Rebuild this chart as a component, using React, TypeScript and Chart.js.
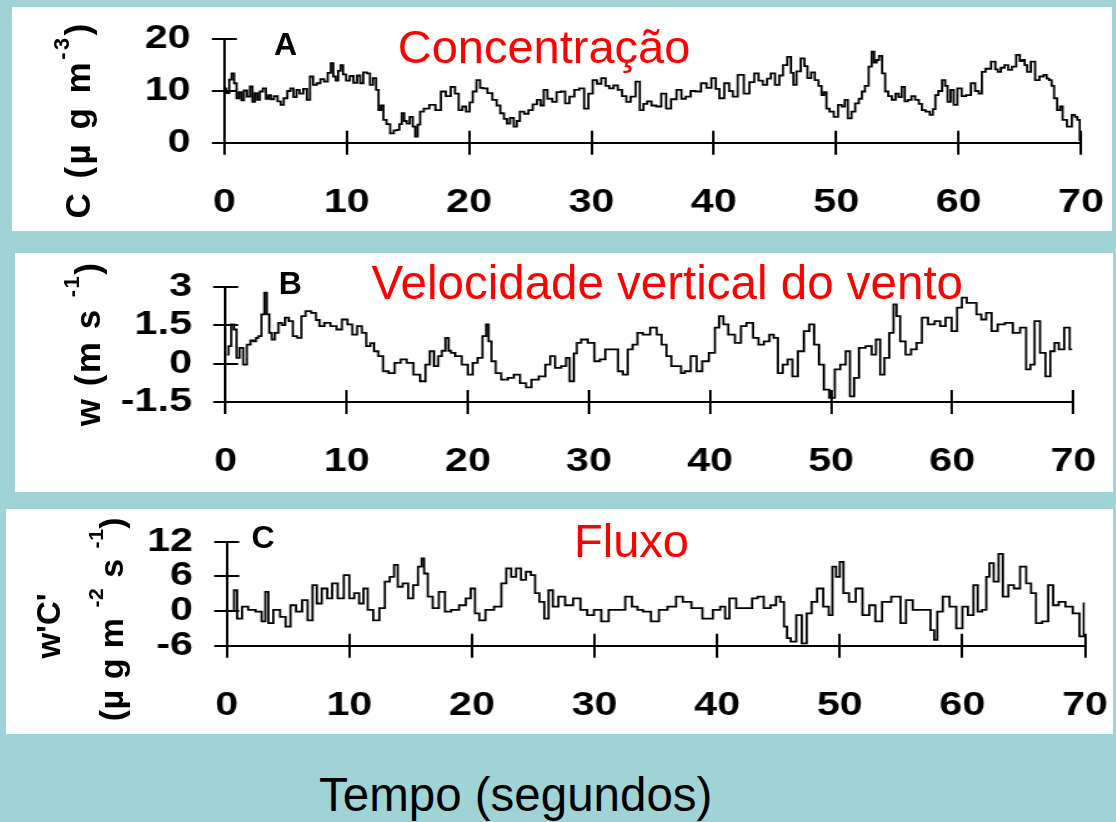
import React, { useEffect, useRef } from 'react';
import { Chart, registerables } from 'chart.js';

Chart.register(...registerables);

// ---------- data ----------
const X_TICKS = [0, 10, 20, 30, 40, 50, 60, 70];
const A_Y_TICKS = [0, 10, 20];
const B_Y_TICKS = [-1.5, 0, 1.5, 3];
const C_Y_TICKS = [-6, 0, 6, 12];

// Panel A: concentration (µg m-3)
const A_TIME = [
  0, 0.3, 0.5, 0.7, 0.9, 1.1, 1.3, 1.5, 1.7, 2.0, 2.2, 2.4, 2.6, 2.8, 3.0, 3.3, 3.5, 3.7, 3.9, 4.2,
  4.5, 4.7, 5.0, 5.3, 5.5, 5.8, 6.0, 6.3, 6.6, 6.9, 7.1, 7.4, 7.7, 8.0, 8.3, 8.6, 8.8, 9.0, 9.2, 9.4,
  9.6, 9.8, 10.1, 10.4, 10.7, 11.0, 11.2, 11.5, 11.8, 12.0, 12.3, 12.5, 12.7, 12.9, 13.1, 13.4, 13.7, 14.0, 14.2, 14.4,
  14.6, 14.8, 15.0, 15.3, 15.5, 15.7, 15.9, 16.1, 16.5, 17.0, 17.5, 17.9, 18.3, 18.7, 19.0, 19.3, 19.6, 19.9, 20.2, 20.4,
  20.8, 21.0, 21.3, 21.7, 22.1, 22.4, 22.7, 23.0, 23.2, 23.5, 23.8, 24.0, 24.3, 24.7, 25.0, 25.4, 25.7, 26.0, 26.2, 26.6,
  27.0, 27.3, 27.7, 28.0, 28.4, 28.8, 29.2, 29.6, 29.9, 30.3, 30.6, 31.0, 31.3, 31.6, 32.0, 32.3, 32.7, 33.0, 33.4, 33.8,
  34.1, 34.4, 34.7, 35.1, 35.5, 35.9, 36.3, 36.7, 37.2, 37.5, 37.9, 38.3, 38.7, 39.2, 39.6, 40.0, 40.3, 40.6, 41.1, 41.4,
  41.7, 42.2, 42.7, 43.1, 43.5, 43.8, 44.2, 44.5, 44.8, 45.2, 45.5, 45.8, 46.2, 46.4, 46.6, 46.9, 47.3, 47.5, 47.8, 48.1,
  48.4, 48.7, 48.9, 49.1, 49.3, 49.6, 50.0, 50.3, 50.6, 50.8, 51.1, 51.4, 51.7, 52.0, 52.2, 52.5, 52.8, 53.0, 53.2, 53.4,
  53.6, 53.9, 54.1, 54.4, 54.7, 55.0, 55.2, 55.5, 55.7, 56.0, 56.3, 56.6, 56.9, 57.1, 57.5, 57.8, 58.0, 58.2, 58.5, 58.8,
  59.0, 59.2, 59.5, 59.7, 60.1, 60.4, 60.8, 61.2, 61.5, 61.8, 62.0, 62.4, 62.9, 63.1, 63.3, 63.6, 63.9, 64.2, 64.5, 64.9,
  65.1, 65.3, 65.5, 65.7, 66.1, 66.4, 66.8, 67.1, 67.3, 67.5, 67.7, 67.9, 68.2, 68.4, 68.6, 69.1, 69.4, 69.6, 69.8, 70.0,
];
const A_CONC = [
  10.5, 9.6, 12.2, 13.4, 11.5, 8.6, 9.8, 8.2, 10.1, 8.9, 10.9, 7.9, 9.6, 8.3, 9.9, 10.5, 8.5, 9.2, 8.4, 9.0,
  8.0, 7.3, 8.6, 10.0, 10.5, 8.8, 10.2, 9.5, 10.4, 8.3, 12.8, 11.2, 11.5, 12.3, 11.8, 13.5, 15.4, 12.8, 12.0, 13.9,
  15.0, 13.2, 12.0, 12.9, 11.6, 13.0, 11.5, 13.6, 13.4, 11.2, 12.5, 10.2, 6.3, 7.2, 4.4, 3.6, 1.8, 2.4, 2.5, 3.6,
  5.7, 4.2, 3.7, 5.0, 3.1, 1.2, 3.5, 6.0, 6.6, 7.3, 6.3, 9.9, 9.0, 10.8, 9.5, 6.3, 7.0, 6.0, 7.8, 9.9,
  12.1, 10.6, 10.5, 9.6, 8.3, 7.2, 5.7, 4.6, 3.7, 4.8, 3.1, 4.2, 6.0, 5.6, 6.3, 7.4, 8.3, 7.2, 10.2, 8.5,
  7.9, 9.8, 9.9, 7.6, 8.9, 10.2, 10.5, 6.6, 9.5, 12.1, 11.4, 12.5, 11.0, 10.5, 11.1, 10.2, 9.0, 7.9, 8.9, 11.8,
  6.3, 7.5, 8.0, 7.2, 7.0, 9.5, 6.6, 8.4, 10.2, 8.5, 8.9, 10.0, 9.9, 11.5, 10.6, 12.5, 10.4, 8.6, 11.5, 10.0,
  8.9, 13.1, 9.5, 11.7, 13.4, 12.0, 11.2, 12.4, 13.4, 11.2, 13.0, 15.0, 16.6, 13.5, 11.2, 13.8, 16.3, 14.8, 12.5, 13.6,
  12.1, 11.0, 9.2, 9.8, 6.6, 6.0, 5.0, 7.3, 7.0, 8.3, 4.7, 6.0, 7.6, 8.5, 9.9, 11.0, 14.7, 17.6, 15.5, 16.0,
  16.8, 13.4, 9.9, 9.0, 8.3, 9.5, 8.8, 10.8, 8.0, 8.3, 9.0, 8.3, 7.5, 6.3, 6.0, 5.4, 6.5, 9.2, 10.0, 12.1,
  11.0, 7.9, 10.2, 7.3, 10.5, 9.0, 9.2, 11.5, 10.0, 9.5, 13.7, 14.3, 15.7, 14.2, 13.7, 14.5, 15.0, 14.1, 14.7, 17.0,
  15.8, 16.0, 15.0, 13.7, 15.7, 12.1, 12.8, 13.1, 12.4, 12.1, 11.0, 8.6, 6.3, 7.0, 4.4, 3.1, 5.4, 5.0, 4.4, 0.5,
];

// Panel B: vertical wind speed (m s-1)
const B_TIME = [
  0.1, 0.35, 0.55, 0.8, 1.0, 1.3, 1.6, 1.9, 2.2, 2.4, 2.6, 2.8, 3.1, 3.3, 3.5, 3.7, 3.9, 4.2, 4.5, 4.8,
  5.0, 5.4, 5.7, 6.1, 6.4, 6.8, 7.3, 7.6, 7.9, 8.4, 8.9, 9.4, 9.8, 10.3, 10.6, 11.1, 11.4, 11.8, 12.1, 12.4,
  12.8, 13.2, 13.7, 14.2, 14.7, 15.2, 15.8, 16.3, 16.7, 17.0, 17.4, 17.7, 18.0, 18.3, 18.5, 18.7, 19.2, 19.8, 20.2, 20.6,
  21.0, 21.4, 21.6, 21.8, 22.1, 22.5, 23.0, 23.6, 24.0, 24.6, 25.0, 25.5, 26.2, 26.6, 27.0, 27.4, 28.0, 28.2, 28.6, 28.9,
  29.1, 29.6, 30.2, 30.7, 31.1, 31.6, 32.2, 32.6, 33.0, 33.4, 33.8, 34.2, 34.7, 35.4, 35.8, 36.2, 36.6, 37.0, 37.5, 37.7,
  38.1, 38.7, 39.1, 39.6, 40.2, 40.6, 40.9, 41.3, 41.7, 42.4, 42.7, 43.3, 43.8, 44.2, 44.7, 45.1, 45.4, 45.8, 46.2, 46.6,
  47.0, 47.5, 48.0, 48.4, 48.8, 49.2, 49.6, 50.1, 50.5, 51.0, 51.4, 51.7, 52.1, 52.5, 53.2, 53.5, 53.9, 54.2, 54.6, 55.0,
  55.3, 55.5, 55.9, 56.4, 56.8, 57.3, 57.7, 58.3, 58.8, 59.2, 59.7, 60.2, 60.6, 61.0, 61.4, 61.8, 62.2, 62.6, 63.0, 63.5,
  64.0, 64.7, 65.3, 65.9, 66.3, 66.6, 67.0, 67.5, 67.9, 68.3, 68.6, 69.0, 69.5, 69.9,
];
const B_WIND = [
  0.35, 0.68, 1.53, 1.33, 0.22, 0.61, -0.04, 0.74, 0.9, 0.87, 1.0, 1.07, 1.92, 2.77, 1.92, 1.2, 0.94, 1.2, 1.59, 1.5,
  1.79, 1.66, 1.07, 1.0, 1.85, 2.05, 1.98, 1.7, 1.46, 1.59, 1.46, 1.33, 1.72, 1.53, 1.13, 1.46, 1.2, 0.68, 0.8, 0.48,
  0.29, -0.3, -0.37, 0.03, 0.16, 0.03, -0.43, -0.69, -0.04, 0.48, -0.1, 0.29, 0.5, 1.0, 0.5, 0.42, 0.29, -0.04, -0.43, 0.03,
  0.22, 1.07, 1.53, 0.87, 0.09, -0.37, -0.63, -0.56, -0.43, -0.76, -0.93, -0.63, -0.5, -0.04, 0.29, -0.17, -0.1, 0.22, -0.69, 0.4,
  0.81, 0.94, 0.81, 0.09, 0.16, 0.55, 0.55, -0.3, -0.43, 0.55, 0.74, 1.2, 1.13, 1.4, 1.13, 0.74, 0.29, -0.1, -0.1, -0.37,
  -0.3, 0.29, -0.3, 0.09, 0.42, 1.4, 1.85, 1.53, 1.13, 0.81, 1.46, 1.59, 1.0, 0.74, 0.87, 1.13, 1.0, -0.37, -0.04, 0.16,
  -0.5, 0.48, 1.27, 1.53, 0.74, -0.04, -1.02, -1.34, -0.23, -0.04, 0.48, -1.28, -0.56, 0.61, 0.68, 0.35, 0.94, -0.43, 0.22, 1.2,
  2.31, 1.85, 0.87, 0.35, 0.55, 0.81, 1.79, 1.53, 1.66, 1.46, 1.79, 1.27, 2.18, 2.57, 2.37, 2.37, 1.92, 1.72, 1.98, 1.27,
  1.53, 1.59, 1.2, 1.4, -0.23, -0.04, 1.66, 0.42, -0.5, 0.48, 0.81, 0.55, 1.4, 0.55,
];

// Panel C: flux w'C' (µg m-2 s-1)
const C_TIME = [
  0.1, 0.5, 0.7, 1.0, 1.5, 2.0, 2.7, 3.0, 3.3, 3.5, 4.1, 4.6, 5.0, 5.4, 5.9, 6.4, 6.8, 7.2, 7.5, 8.0,
  8.4, 8.8, 9.3, 9.8, 10.2, 10.6, 11.0, 11.3, 11.7, 12.2, 12.7, 13.1, 13.5, 13.8, 14.1, 14.6, 15.0, 15.4, 15.8, 16.0,
  16.2, 16.6, 17.0, 17.6, 18.0, 18.6, 19.3, 19.7, 20.1, 20.4, 20.8, 21.4, 22.2, 22.6, 23.0, 23.4, 23.8, 24.2, 24.6, 25.0,
  25.3, 25.7, 26.1, 26.4, 26.8, 27.3, 27.9, 28.6, 29.1, 29.7, 30.2, 30.9, 31.4, 32.2, 32.8, 33.3, 33.7, 34.2, 35.0, 35.5,
  36.4, 36.9, 37.5, 38.3, 39.3, 40.0, 40.5, 40.8, 41.2, 41.9, 42.6, 43.1, 43.5, 44.1, 44.6, 45.0, 45.3, 45.6, 45.8, 46.2,
  46.7, 47.1, 47.5, 47.9, 48.4, 48.9, 49.3, 49.5, 49.9, 50.1, 50.5, 51.0, 51.6, 52.1, 52.7, 53.1, 53.8, 54.6, 55.3, 55.5,
  56.4, 57.2, 57.6, 57.8, 58.1, 58.7, 59.2, 59.8, 60.2, 60.7, 61.1, 61.4, 61.8, 62.1, 62.3, 62.8, 63.1, 63.5, 64.0, 64.4,
  65.0, 65.4, 65.8, 66.2, 66.8, 67.2, 67.6, 68.1, 68.7, 69.3, 69.8, 70.0,
];
const C_FLUX = [
  0, 0, 3.6, -1.3, 0.75, 0.2, -0.1, -1.8, 3.3, -2.1, 0.2, -1.0, -2.7, 1.0, -0.1, 1.9, -1.6, 4.5, 1.3, 3.9,
  2.2, 4.8, 2.2, 6.2, 2.2, 3.1, 1.3, 3.9, 0.2, -1.6, 0.5, 5.1, 5.9, 8.0, 4.2, 4.8, 2.2, 4.5, 7.7, 9.1,
  6.5, 2.5, 0.5, 3.3, -0.1, 0.2, 1.0, 2.2, 3.9, -0.4, -1.6, 0.2, 0.75, 4.8, 7.4, 5.9, 7.4, 5.4, 6.8, 6.2,
  3.1, 1.6, -1.3, 3.6, 0.75, 2.5, 1.0, 2.2, 0.2, -0.7, 0.2, -1.8, 0.2, 0.2, 2.5, 0.75, 0.2, -0.1, -1.8, 0.2,
  0.75, 2.5, 1.6, 0.5, -1.3, 0.2, 0.75, -1.3, 2.2, 0.5, 0.5, 2.2, 2.5, 0.5, 1.0, 2.5, 1.6, -2.7, -4.7, -5.3,
  -0.7, -5.6, -0.4, 1.6, 3.9, 0.75, -0.7, 7.7, 5.9, 8.5, 3.1, 1.6, 3.9, -0.7, 1.0, -1.8, 1.6, 2.5, -2.1, 1.9,
  0.2, 0.2, -3.3, -5.0, -0.1, 2.5, 0.75, -3.0, 0.75, -0.7, 4.5, -0.1, 0.2, 5.9, 8.3, 5.1, 9.9, 2.5, 4.5, 3.9,
  7.7, 4.8, 3.1, -2.1, -1.8, 4.5, 1.0, 1.6, 0.75, -0.4, -4.4, 1.3,
];

// ---------- styling ----------
const FONT = "'Liberation Sans', Arial, Helvetica, sans-serif";
const TEAL = '#a0d3d6';
const STRETCH = 1.25; // tick-label fonts in the reference are horizontally widened

const innerTicks = {
  id: 'innerTicks',
  afterDraw(chart: any) {
    const { ctx, chartArea, scales } = chart;
    const x = scales.x;
    const y = scales.y;
    ctx.save();
    ctx.strokeStyle = '#000';
    ctx.lineWidth = 2;
    ctx.beginPath();
    x.ticks.forEach((t: any) => {
      if (t.value === x.min) return;
      const px = Math.round(x.getPixelForValue(t.value));
      ctx.moveTo(px, chartArea.bottom);
      ctx.lineTo(px, chartArea.bottom - 12);
    });
    y.ticks.forEach((t: any) => {
      if (t.value === y.min) return;
      const py = Math.round(y.getPixelForValue(t.value));
      ctx.moveTo(chartArea.left, py);
      ctx.lineTo(chartArea.left + 10, py);
    });
    ctx.stroke();
    ctx.restore();
  },
};

type Box = { left: number; top: number; width: number; height: number };
type Area = { left: number; right: number; top: number; bottom: number };

function Panel(props: {
  box: Box;
  area: Area;
  times: number[];
  values: number[];
  yTicks: number[];
}) {
  const ref = useRef<HTMLCanvasElement>(null);
  const { box, area, times, values, yTicks } = props;
  const iw = Math.round(box.width / STRETCH);
  const k = box.width / iw;

  useEffect(() => {
    const canvas = ref.current;
    if (!canvas) return;
    const aL = (area.left - box.left) / k;
    const aR = (area.right - box.left) / k;
    const aT = area.top - box.top;
    const aB = area.bottom - box.top;
    const yW = 120;
    const xH = 80;
    const tickFont = { family: FONT, size: 33, weight: 'bold' as const };
    const chart = new Chart(canvas, {
      type: 'line',
      data: {
        datasets: [
          {
            data: times.map((t, i) => ({ x: t, y: values[i] })),
            borderColor: '#000',
            borderWidth: 1.8,
            pointRadius: 0,
            tension: 0,
            stepped: 'middle',
            fill: false,
          },
        ],
      },
      options: {
        animation: false,
        responsive: false,
        devicePixelRatio: 1,
        events: [],
        layout: {
          padding: { left: aL - yW, right: iw - aR, top: aT, bottom: box.height - aB - xH },
        },
        plugins: { legend: { display: false }, tooltip: { enabled: false } },
        scales: {
          x: {
            type: 'linear',
            min: X_TICKS[0],
            max: X_TICKS[X_TICKS.length - 1],
            afterBuildTicks: (s: any) => {
              s.ticks = X_TICKS.map((v) => ({ value: v }));
            },
            afterFit: (s: any) => {
              s.height = xH;
              s.paddingLeft = 0;
              s.paddingRight = 0;
            },
            grid: { drawOnChartArea: false, drawTicks: true, tickLength: 12, color: '#000', lineWidth: 2 },
            border: { display: true, color: '#000', width: 2 },
            ticks: {
              autoSkip: false,
              maxRotation: 0,
              minRotation: 0,
              padding: 28,
              color: '#000',
              font: tickFont,
              callback: (v: any) => String(v),
            },
          },
          y: {
            type: 'linear',
            min: yTicks[0],
            max: yTicks[yTicks.length - 1],
            afterBuildTicks: (s: any) => {
              s.ticks = yTicks.map((v) => ({ value: v }));
            },
            afterFit: (s: any) => {
              s.width = yW;
              s.paddingTop = 0;
              s.paddingBottom = 0;
            },
            grid: { drawOnChartArea: false, drawTicks: true, tickLength: 10, color: '#000', lineWidth: 2 },
            border: { display: true, color: '#000', width: 2 },
            ticks: {
              autoSkip: false,
              padding: 17,
              color: '#000',
              font: tickFont,
              callback: (v: any) => String(v),
            },
          },
        },
      } as any,
      plugins: [innerTicks],
    });
    return () => chart.destroy();
  }, []);

  return (
    <div
      style={{
        position: 'absolute',
        left: box.left,
        top: box.top,
        width: box.width,
        height: box.height,
        background: '#fff',
        overflow: 'hidden',
      }}
    >
      <canvas
        ref={ref}
        width={iw}
        height={box.height}
        style={{
          position: 'absolute',
          left: 0,
          top: 0,
          width: iw,
          height: box.height,
          transform: `scaleX(${k})`,
          transformOrigin: '0 0',
        }}
      />
    </div>
  );
}

function Label(props: { left: number; baseline: number; size: number; color: string; bold?: boolean; children: any }) {
  const { left, baseline, size, color, bold, children } = props;
  return (
    <div
      style={{
        position: 'absolute',
        left,
        top: baseline - 0.8465 * size,
        fontSize: size,
        lineHeight: 1,
        color,
        fontWeight: bold ? 'bold' : 'normal',
        whiteSpace: 'nowrap',
      }}
    >
      {children}
    </div>
  );
}

function VText(props: { bx: number; cy: number; size: number; spacing?: number; children: any }) {
  const { bx, cy, size, spacing, children } = props;
  const tx = bx - 0.8465 * size;
  return (
    <div
      style={{
        position: 'absolute',
        left: 0,
        top: 0,
        whiteSpace: 'nowrap',
        lineHeight: 1,
        fontSize: size,
        fontWeight: 'bold',
        color: '#000',
        letterSpacing: spacing || 0,
        transformOrigin: '0 0',
        transform: `translate(${tx}px, ${cy}px) rotate(-90deg) translateX(-50%)`,
      }}
    >
      {children}
    </div>
  );
}

function Sup(props: { children: any }) {
  return <span style={{ fontSize: '0.62em', position: 'relative', top: '-0.95em' }}>{props.children}</span>;
}

export default function App() {
  return (
    <div
      style={{
        position: 'fixed',
        left: 0,
        top: 0,
        width: 1116,
        height: 822,
        background: TEAL,
        overflow: 'hidden',
        fontFamily: FONT,
      }}
    >
      <Panel
        box={{ left: 12, top: 7, width: 1100, height: 224 }}
        area={{ left: 224.3, right: 1081, top: 39.3, bottom: 142.7 }}
        times={A_TIME}
        values={A_CONC}
        yTicks={A_Y_TICKS}
      />
      <Panel
        box={{ left: 15, top: 253, width: 1098, height: 239 }}
        area={{ left: 225.7, right: 1073.3, top: 286.7, bottom: 402 }}
        times={B_TIME}
        values={B_WIND}
        yTicks={B_Y_TICKS}
      />
      <Panel
        box={{ left: 6, top: 509, width: 1107, height: 225 }}
        area={{ left: 226.7, right: 1085, top: 541.7, bottom: 645.7 }}
        times={C_TIME}
        values={C_FLUX}
        yTicks={C_Y_TICKS}
      />

      <Label left={397.7} baseline={63} size={47} color="#ff0000">Concentração</Label>
      <Label left={371.5} baseline={299} size={47.5} color="#ff0000">Velocidade vertical do vento</Label>
      <Label left={574} baseline={556.7} size={47} color="#ff0000">Fluxo</Label>

      <Label left={274} baseline={55} size={32} color="#000" bold>A</Label>
      <Label left={278.7} baseline={294} size={32} color="#000" bold>B</Label>
      <Label left={251.6} baseline={548} size={32} color="#000" bold>C</Label>

      <VText bx={90} cy={120} size={35} spacing={2.5}>
        C (µ g m<Sup>-3</Sup>)
      </VText>
      <VText bx={100} cy={344} size={35} spacing={1.5}>
        w (m s <Sup>-1</Sup>)
      </VText>
      <VText bx={60} cy={626} size={33}>
        w'C'
      </VText>
      <VText bx={123} cy={619} size={34} spacing={0.5}>
        (µ g m <Sup>-2</Sup> s <Sup>-1</Sup>)
      </VText>

      <Label left={319} baseline={811} size={47.5} color="#000">Tempo (segundos)</Label>
    </div>
  );
}
